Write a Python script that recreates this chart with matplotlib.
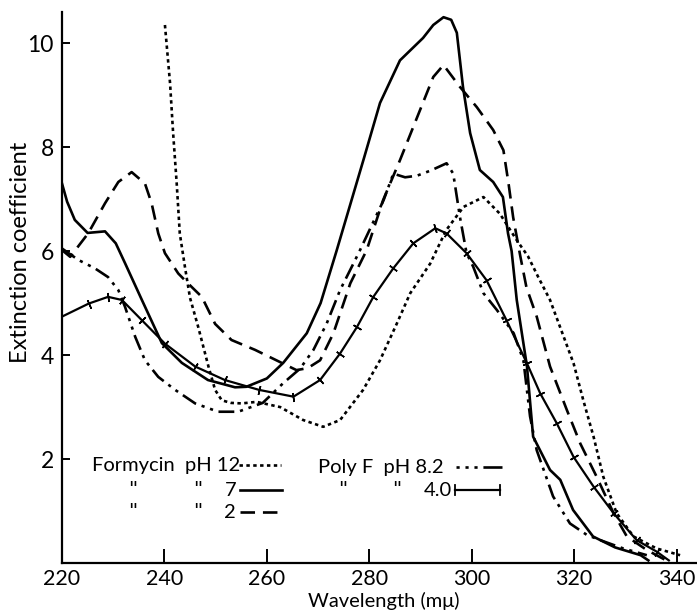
import numpy as np
import matplotlib
matplotlib.use("Agg")
import matplotlib.pyplot as plt
from matplotlib.lines import Line2D

plt.rcParams['font.family'] = ['Lato', 'DejaVu Sans']

# ---------------- data ----------------
# Formycin pH 12 (dotted)
wl_f12 = [240.1, 241.1, 241.7, 242.4, 243.0, 244.0, 245.0, 246.6, 248.6, 249.9, 251.2, 253.0,
          255.1, 258.0, 262.6, 267.1, 271.0, 274.3, 278.8, 282.1, 285.4, 288.0, 291.9, 295.0,
          298.4, 302.3, 305.5, 308.8, 311.0, 313.0, 315.3, 319.9, 321.8, 323.8, 325.7, 328.3,
          331.6, 336.1, 340.7]
e_f12 = [10.35, 9.23, 8.27, 7.3, 6.34, 5.7, 5.1, 4.54, 3.78, 3.33, 3.13, 3.08,
         3.07, 3.1, 3.0, 2.75, 2.62, 2.75, 3.33, 3.9, 4.61, 5.19, 5.76, 6.4,
         6.85, 7.04, 6.72, 6.21, 5.9, 5.5, 5.06, 3.84, 3.13, 2.43, 1.66, 0.96,
         0.51, 0.28, 0.15]

# Formycin pH 7 (solid)
wl_f7 = [220.0, 221.0, 222.5, 225.0, 228.4, 230.5, 232.3, 235.6, 239.5, 243.4, 248.5, 253.8,
         256.0, 260.0, 263.2, 267.8, 270.5, 273.6, 276.0, 279.0, 282.1, 286.0, 290.5, 292.5,
         294.5, 296.0, 297.1, 298.3, 299.7, 301.6, 304.2, 306.1, 307.1, 307.8, 308.8, 310.8,
         312.0, 315.3, 317.3, 319.8, 323.7, 328.0, 333.0, 334.5]
e_f7 = [7.3, 6.95, 6.6, 6.35, 6.38, 6.15, 5.77, 5.06, 4.23, 3.85, 3.52, 3.38,
        3.39, 3.55, 3.85, 4.42, 5.0, 6.0, 6.8, 7.8, 8.85, 9.67, 10.1, 10.35,
        10.5, 10.45, 10.2, 9.16, 8.27, 7.56, 7.33, 7.04, 6.34, 6.0, 5.06, 3.78,
        2.43, 1.79, 1.6, 1.02, 0.51, 0.3, 0.15, 0.05]

# Formycin pH 2 (dashed)
wl_f2 = [220.0, 221.6, 225.1, 228.4, 231.0, 233.6, 236.2, 237.5, 238.8, 240.1, 242.7, 244.6,
         247.3, 249.9, 253.1, 257.7, 262.9, 265.8, 268.0, 270.4, 273.0, 276.3, 279.5, 282.7,
         286.0, 289.9, 292.5, 294.5, 297.7, 301.0, 304.2, 306.2, 307.2, 308.1, 309.5, 310.7,
         312.7, 315.3, 318.6, 321.2, 324.4, 327.7, 330.3, 334.2, 338.0]
e_f2 = [6.02, 5.89, 6.34, 6.92, 7.33, 7.52, 7.3, 6.92, 6.34, 5.96, 5.57, 5.38,
        5.12, 4.6, 4.29, 4.1, 3.85, 3.71, 3.75, 3.9, 4.42, 5.38, 6.02, 6.98,
        7.75, 8.71, 9.35, 9.58, 9.16, 8.77, 8.33, 7.94, 7.3, 6.65, 5.9, 5.3,
        4.74, 3.78, 2.94, 2.3, 1.66, 0.96, 0.51, 0.25, 0.05]

# Poly F pH 8.2 (dash-dot-dot)
wl_p82 = [220.0, 223.2, 226.4, 229.0, 231.0, 232.3, 234.3, 236.2, 238.8, 242.1, 246.0, 250.5,
          254.4, 259.2, 263.2, 266.5, 269.1, 271.7, 274.3, 276.9, 278.2, 280.5, 282.8, 284.7,
          287.0, 289.3, 292.0, 295.1, 296.4, 297.7, 299.0, 300.3, 302.3, 304.9, 308.2, 310.1,
          311.4, 312.7, 315.9, 319.2, 322.5, 325.1, 329.6, 334.2]
e_p82 = [6.05, 5.83, 5.67, 5.5, 5.25, 4.93, 4.35, 3.9, 3.58, 3.33, 3.07, 2.91,
         2.91, 3.08, 3.46, 3.74, 4.1, 4.61, 5.25, 5.76, 6.02, 6.5, 6.98, 7.49,
         7.42, 7.45, 7.55, 7.69, 7.49, 6.66, 5.96, 5.7, 5.19, 4.87, 4.42, 3.9,
         2.82, 2.17, 1.28, 0.76, 0.54, 0.44, 0.28, 0.15]

# Poly F pH 4.0 (solid with cross ticks)
wl_p40 = [220.0, 225.2, 229.0, 231.7, 235.6, 240.1, 246.0, 251.8, 258.5, 265.2, 270.4, 274.3,
          277.6, 280.8, 284.7, 288.6, 292.9, 295.1, 299.0, 302.9, 306.8, 310.8, 313.4, 316.6,
          319.9, 323.8, 327.7, 332.2, 336.1, 338.5]
e_p40 = [4.74, 4.99, 5.12, 5.06, 4.67, 4.22, 3.78, 3.52, 3.33, 3.2, 3.52, 4.03,
         4.54, 5.12, 5.67, 6.15, 6.44, 6.34, 5.96, 5.44, 4.67, 3.84, 3.26, 2.69,
         2.04, 1.47, 0.96, 0.44, 0.22, 0.05]

x_ticks = [220, 240, 260, 280, 300, 320, 340]
y_ticks = [2, 4, 6, 8, 10]

# ---------------- figure ----------------
W, H = 697, 611
fig = plt.figure(figsize=(W / 100, H / 100), dpi=100)
ax = fig.add_axes([62 / W, (H - 563) / H, (W - 62) / W, (563 - 12) / H])
ax.set_xlim(220, 344)
ax.set_ylim(0, 10.6)

lw = 1.9
k = 'black'
ax.plot(wl_f12, e_f12, color=k, lw=lw, linestyle=(0, (1.3, 1.3)))
ax.plot(wl_f7, e_f7, color=k, lw=lw, linestyle='-')
ax.plot(wl_f2, e_f2, color=k, lw=lw, linestyle=(0, (5.5, 3)))
ax.plot(wl_p82, e_p82, color=k, lw=lw, linestyle=(0, (6, 2.2, 1.2, 2.2, 1.2, 2.2)))
ax.plot(wl_p40, e_p40, color=k, lw=1.6, linestyle='-')

# cross ticks on Poly F pH 4.0, perpendicular to the curve
fig.canvas.draw()
pts = ax.transData.transform(np.column_stack([wl_p40, e_p40]))
for i in range(1, len(wl_p40) - 1):
    dx = pts[i + 1, 0] - pts[i - 1, 0]
    dy = pts[i + 1, 1] - pts[i - 1, 1]
    ang = np.degrees(np.arctan2(dy, dx))
    ax.plot([wl_p40[i]], [e_p40[i]], marker=(2, 2, ang), markersize=6.5,
            markeredgewidth=1.1, color=k, linestyle='none')

# axes styling
for s in ['top', 'right']:
    ax.spines[s].set_visible(False)
for s in ['left', 'bottom']:
    ax.spines[s].set_linewidth(1.6)
ax.set_xticks(x_ticks)
ax.set_yticks(y_ticks)
ax.set_xticklabels([str(v) for v in x_ticks])
ax.set_yticklabels([str(v) for v in y_ticks])
ax.tick_params(axis='x', direction='in', length=10, width=1.4, pad=4, labelsize=15.5)
ax.tick_params(axis='y', direction='in', length=6, width=1.4, pad=6, labelsize=16.5)

fig.text(21 / W, 1 - 252 / H, 'Extinction coefficient', rotation=90,
         ha='center', va='center', fontsize=17)
fig.text(384 / W, 1 - 601 / H, 'Wavelength (mμ)', ha='center', va='center', fontsize=14.5)

# ---------------- legend (hand-set like the original) ----------------
def fx(px):
    return (px - 62) / (W - 62)

def fy(py):
    return (563 - py) / (563 - 12)

fs = 14.5
tr = ax.transAxes
# Formycin rows
ax.text(fx(92), fy(465), 'Formycin  pH 12', transform=tr, fontsize=fs, va='center', ha='left')
ax.add_line(Line2D([fx(239), fx(281)], [fy(465), fy(465)], transform=tr, color=k, lw=lw,
                   linestyle=(0, (1.3, 1.3))))
for row_y, lab, ls in [(490, '7', '-'), (512, '2', (0, (5.5, 3)))]:
    ax.text(fx(133), fy(row_y), '"', transform=tr, fontsize=fs, va='center', ha='center',
            family='DejaVu Sans')
    ax.text(fx(198), fy(row_y), '"', transform=tr, fontsize=fs, va='center', ha='center',
            family='DejaVu Sans')
    ax.text(fx(236), fy(row_y), lab, transform=tr, fontsize=fs, va='center', ha='right')
    ax.add_line(Line2D([fx(240), fx(282)], [fy(row_y), fy(row_y)], transform=tr, color=k,
                       lw=lw, linestyle=ls))
# Poly F rows
ax.text(fx(318), fy(467), 'Poly F  pH 8.2', transform=tr, fontsize=fs, va='center', ha='left')
ax.add_line(Line2D([fx(456), fx(502)], [fy(467), fy(467)], transform=tr, color=k, lw=lw,
                   linestyle=(0, (1.2, 2.2, 1.2, 2.2, 1.2, 2.2, 12, 1))))
ax.text(fx(343), fy(490), '"', transform=tr, fontsize=fs, va='center', ha='center',
        family='DejaVu Sans')
ax.text(fx(397), fy(490), '"', transform=tr, fontsize=fs, va='center', ha='center',
        family='DejaVu Sans')
ax.text(fx(452), fy(490), '4.0', transform=tr, fontsize=fs, va='center', ha='right')
ax.add_line(Line2D([fx(455), fx(500)], [fy(490), fy(490)], transform=tr, color=k, lw=1.6))
for ex in (455, 500):
    ax.add_line(Line2D([fx(ex), fx(ex)], [fy(485), fy(495)], transform=tr, color=k, lw=1.3))

fig.savefig('out.png', dpi=100)
